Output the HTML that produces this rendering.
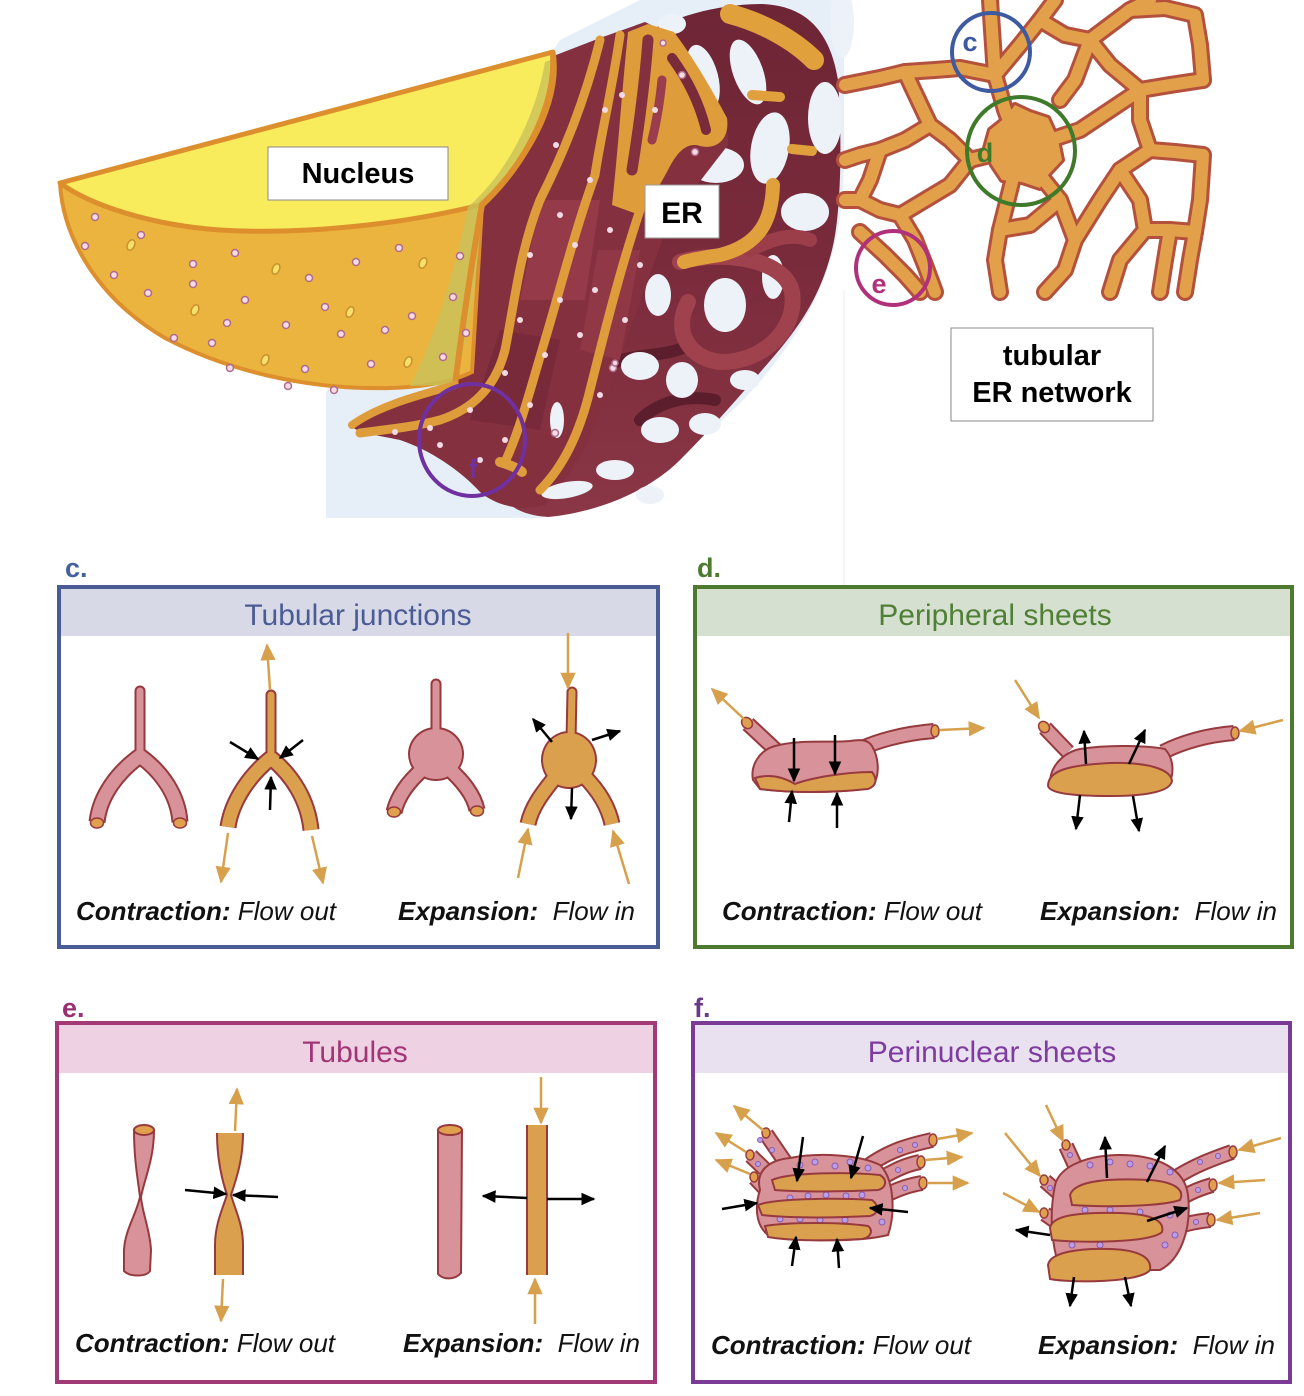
<!DOCTYPE html>
<html><head><meta charset="utf-8"><title>ER flow diagram</title>
<style>html,body{margin:0;padding:0;background:#fff}svg{display:block}</style></head>
<body>
<svg width="1304" height="1396" viewBox="0 0 1304 1396" xmlns="http://www.w3.org/2000/svg" font-family="'Liberation Sans', Arial, sans-serif">
<defs>
<marker id="bk" viewBox="0 0 10 10" refX="9" refY="5" markerWidth="14" markerHeight="14" markerUnits="userSpaceOnUse" orient="auto"><path d="M0,0.5 L10,5 L0,9.5 Z" fill="#000"/></marker>
<marker id="gd" viewBox="0 0 10 10" refX="9" refY="5" markerWidth="17" markerHeight="17" markerUnits="userSpaceOnUse" orient="auto"><path d="M0,0.5 L10,5 L0,9.5 Z" fill="#d6a04c"/></marker>
<linearGradient id="mz" x1="0" y1="0" x2="0" y2="1">
<stop offset="0" stop-color="#6e2535"/><stop offset="0.5" stop-color="#7a2b3b"/><stop offset="1" stop-color="#8a3646"/>
</linearGradient>
</defs>
<rect width="1304" height="1396" fill="#fff"/>

<!-- ===== TOP ILLUSTRATION ===== -->
<path d="M326,392 L326,518 L540,518 C590,510 630,485 660,465 C720,430 770,380 810,310 C835,260 844,220 844,150 L844,0 L640,0 L560,40 Z" fill="#e6eef8"/>
<path d="M844,290 L844,598 M713,598 L844,598" stroke="#ececec" stroke-width="1" fill="none"/>

<!-- ER maze base -->
<path d="M600,60 C650,25 700,5 760,4 C805,5 830,30 838,80 C843,150 840,220 832,250 C822,290 805,320 775,355 C745,390 715,425 680,460 C650,490 600,512 548,517 C520,515 505,505 500,490 L560,420 L610,300 L650,200 Z" fill="url(#mz)"/>
<g fill="none" stroke-linecap="round" stroke-linejoin="round">
<path d="M600,370 C630,350 660,360 690,345" stroke="#5c1e2c" stroke-width="12"/>
<path d="M640,420 C660,400 690,395 715,400" stroke="#5c1e2c" stroke-width="12"/>
</g>
<!-- maze holes -->
<g fill="#edf2f9">
<ellipse cx="703" cy="77" rx="15" ry="33" transform="rotate(-15 703 77)"/>
<ellipse cx="748" cy="72" rx="15" ry="34" transform="rotate(-20 748 72)"/>
<ellipse cx="770" cy="148" rx="19" ry="36" transform="rotate(10 770 148)"/>
<ellipse cx="825" cy="118" rx="17" ry="36"/>
<ellipse cx="716" cy="165" rx="28" ry="18"/>
<ellipse cx="805" cy="212" rx="24" ry="19"/>
<ellipse cx="842" cy="22" rx="12" ry="36"/>
<ellipse cx="672" cy="24" rx="14" ry="10"/>
<ellipse cx="725" cy="305" rx="21" ry="27"/>
<ellipse cx="773" cy="277" rx="11" ry="22"/>
<ellipse cx="658" cy="295" rx="13" ry="21"/>
<ellipse cx="640" cy="366" rx="19" ry="14"/>
<ellipse cx="682" cy="380" rx="16" ry="18"/>
<ellipse cx="660" cy="430" rx="19" ry="13"/>
<ellipse cx="705" cy="424" rx="16" ry="11"/>
<ellipse cx="615" cy="470" rx="19" ry="10"/>
<ellipse cx="745" cy="380" rx="15" ry="10"/>
<ellipse cx="650" cy="495" rx="14" ry="9"/>
</g>
<path d="M680,262 C720,250 785,258 792,292 C798,330 762,362 722,362 C690,360 672,332 688,302" fill="none" stroke="#a0424e" stroke-width="16" stroke-linecap="round"/>
<path d="M750,250 C770,240 790,232 810,240" fill="none" stroke="#9b3e4a" stroke-width="14" stroke-linecap="round"/>

<!-- ER sheets region -->
<path d="M478,200 C520,160 548,110 556,55 L600,38 L645,22 L672,35 C700,75 730,110 728,145 C705,175 680,205 662,240 C645,290 628,335 612,380 C598,430 575,470 545,505 C520,512 495,505 480,492 C460,470 430,450 400,440 C375,435 355,432 350,425 C370,405 420,390 455,385 C470,330 476,270 478,200 Z" fill="#84303f"/>
<path d="M540,200 L600,200 L585,300 L520,300 Z" fill="#9a3d4c" opacity="0.8"/>
<path d="M500,330 L560,340 L540,430 L470,420 Z" fill="#75283a" opacity="0.8"/>
<path d="M598,250 L640,250 L620,360 L580,350 Z" fill="#9a3d4c" opacity="0.6"/>
<!-- orange lobe at top of sheets -->
<path d="M628,32 L648,24 L674,32 C695,60 712,90 727,118 C730,140 716,150 700,146 C688,142 678,150 668,170 C656,192 648,205 640,215 L612,205 C618,150 622,90 628,32 Z" fill="#de9c3a"/>
<g fill="none" stroke-linecap="round">
<path d="M648,40 C645,80 640,120 632,170" stroke="#84303f" stroke-width="11"/>
<path d="M672,58 C688,80 700,105 706,130" stroke="#7a2b3a" stroke-width="10"/>
<path d="M662,80 C660,100 657,120 652,140" stroke="#9a3d4c" stroke-width="9"/>
</g>
<g fill="#edf2f9">
<ellipse cx="557" cy="420" rx="7" ry="18"/>
<ellipse cx="567" cy="490" rx="26" ry="8" transform="rotate(-10 567 490)"/>
</g>
<g fill="none" stroke="#de9c3a" stroke-linecap="round" stroke-width="9">
<path d="M600,40 C585,100 565,150 540,200 C520,250 515,300 505,350 C495,390 470,410 440,420 C410,428 380,430 360,433"/>
<path d="M620,35 C612,90 600,140 595,175 C575,230 560,290 545,340 C530,390 520,430 505,462"/>
<path d="M640,210 C620,270 605,330 590,390 C578,440 560,470 540,490"/>
<path d="M500,462 C510,465 518,468 522,472" stroke-width="10"/>
</g>

<!-- maze orange highlights -->
<g fill="none" stroke="#e0a03c" stroke-linecap="round">
<path d="M730,14 C760,22 792,38 814,60" stroke-width="20"/>
<path d="M752,95 L780,97" stroke-width="10"/>
<path d="M792,149 L812,151" stroke-width="10"/>
<path d="M773,185 C772,220 760,245 720,255 C700,258 690,260 684,262" stroke-width="14"/>
</g>

<!-- Nucleus -->
<path d="M60,183 C63,240 100,300 165,338 C230,372 310,390 390,388 C425,387 452,382 472,372 L482,205 Z" fill="#ebb43e" stroke="#dc8f2c" stroke-width="4"/>
<path d="M60,183 L553,52 C560,90 540,150 480,205 C400,225 300,235 220,230 C150,225 90,205 60,183 Z" fill="#f8eb5c" stroke="#dc8f2c" stroke-width="5" stroke-linejoin="round"/>
<path d="M545,62 C535,120 505,175 468,207 C455,270 438,330 410,386 L455,385 C470,330 478,270 482,205 C520,170 548,120 556,58 Z" fill="#c9c25a" opacity="0.8"/>
<path d="M553,55 C556,100 530,160 482,205 C470,270 462,330 455,385" fill="none" stroke="#dc8f2c" stroke-width="6"/>
<path d="M455,385 C420,395 380,405 352,425" fill="none" stroke="#de9c3a" stroke-width="8" stroke-linecap="round"/>
<!-- nucleus dots -->
<g fill="#f4dce6" stroke="#b06a8a" stroke-width="1.5">
<circle cx="95" cy="217" r="3.5"/><circle cx="85" cy="246" r="3.5"/><circle cx="141" cy="235" r="3.5"/><circle cx="114" cy="275" r="3.5"/><circle cx="148" cy="293" r="3.5"/><circle cx="193" cy="264" r="3.5"/><circle cx="193" cy="284" r="3.5"/><circle cx="235" cy="253" r="3.5"/><circle cx="245" cy="300" r="3.5"/><circle cx="227" cy="323" r="3.5"/><circle cx="212" cy="343" r="3.5"/><circle cx="174" cy="338" r="3.5"/><circle cx="286" cy="325" r="3.5"/><circle cx="309" cy="278" r="3.5"/><circle cx="356" cy="262" r="3.5"/><circle cx="325" cy="307" r="3.5"/><circle cx="341" cy="334" r="3.5"/><circle cx="385" cy="330" r="3.5"/><circle cx="412" cy="316" r="3.5"/><circle cx="399" cy="248" r="3.5"/><circle cx="460" cy="256" r="3.5"/><circle cx="453" cy="297" r="3.5"/><circle cx="305" cy="369" r="3.5"/><circle cx="371" cy="364" r="3.5"/><circle cx="230" cy="368" r="3.5"/><circle cx="288" cy="386" r="3.5"/><circle cx="334" cy="390" r="3.5"/><circle cx="443" cy="357" r="3.5"/><circle cx="466" cy="333" r="3.5"/>
<circle cx="663" cy="43" r="3"/><circle cx="682" cy="75" r="3.5"/><circle cx="695" cy="152" r="3.5"/><circle cx="613" cy="368" r="3.5"/><circle cx="555" cy="433" r="3.5"/><circle cx="615" cy="363" r="3"/>
</g>
<g fill="#f6e068" stroke="#c9902e" stroke-width="1.5">
<ellipse cx="131" cy="245" rx="3.5" ry="5.5" transform="rotate(25 131 245)"/><ellipse cx="276" cy="269" rx="3.5" ry="5.5" transform="rotate(25 276 269)"/><ellipse cx="423" cy="263" rx="3.5" ry="5.5" transform="rotate(25 423 263)"/><ellipse cx="195" cy="310" rx="3.5" ry="5.5" transform="rotate(25 195 310)"/><ellipse cx="350" cy="312" rx="3.5" ry="5.5" transform="rotate(25 350 312)"/><ellipse cx="265" cy="360" rx="3.5" ry="5.5" transform="rotate(25 265 360)"/><ellipse cx="408" cy="362" rx="3.5" ry="5.5" transform="rotate(25 408 362)"/>
</g>
<!-- ER dots -->
<g fill="#f0dbe4">
<circle cx="556" cy="145" r="3"/><circle cx="560" cy="215" r="3"/><circle cx="530" cy="255" r="3"/><circle cx="520" cy="320" r="3"/><circle cx="505" cy="373" r="3"/><circle cx="470" cy="410" r="3"/><circle cx="430" cy="428" r="3"/><circle cx="395" cy="432" r="3"/><circle cx="605" cy="110" r="3"/><circle cx="590" cy="180" r="3"/><circle cx="575" cy="245" r="3"/><circle cx="560" cy="300" r="3"/><circle cx="545" cy="355" r="3"/><circle cx="530" cy="405" r="3"/><circle cx="622" cy="95" r="3"/><circle cx="610" cy="230" r="3"/><circle cx="595" cy="290" r="3"/><circle cx="580" cy="335" r="3"/><circle cx="600" cy="395" r="3"/><circle cx="625" cy="320" r="3"/><circle cx="505" cy="440" r="3"/><circle cx="440" cy="445" r="3"/><circle cx="480" cy="460" r="3"/><circle cx="640" cy="265" r="3"/><circle cx="655" cy="110" r="3"/>
</g>

<!-- Tubular network -->
<g fill="none" stroke-linecap="round" stroke-linejoin="round">
<g stroke="#b4513c" stroke-width="18">
<path d="M845,85 L880,78 L905,72 L935,70 L960,68 L995,75"/>
<path d="M990,0 L992,30 L995,75 L1005,110 L1020,150"/>
<path d="M995,75 L1020,45 L1040,20 L1055,0"/>
<path d="M1040,20 L1065,35 L1090,40 L1110,25 L1130,10 L1150,0"/>
<path d="M1130,10 L1165,8 L1195,15 L1200,45 L1203,80"/>
<path d="M1090,40 L1110,65 L1140,90 L1170,85 L1203,80"/>
<path d="M1140,90 L1110,110 L1080,130 L1050,140 L1020,150"/>
<path d="M1020,150 L990,155 L970,160 L950,140 L930,125 L905,72"/>
<path d="M930,125 L905,140 L880,150 L860,155 L845,160"/>
<path d="M880,150 L870,180 L860,200 L880,210 L900,215 L925,200 L950,185 L970,160"/>
<path d="M900,215 L915,240 L925,265 L935,292"/>
<path d="M860,232 L885,255 L905,275 L920,292"/>
<path d="M845,200 L860,200"/>
<path d="M1020,150 L1010,190 L1000,230 L995,260 L1000,292"/>
<path d="M1020,150 L1040,175 L1060,200 L1075,240 L1065,270 L1045,292"/>
<path d="M1075,240 L1100,200 L1120,170 L1150,150 L1140,120 L1140,90"/>
<path d="M1150,150 L1175,152 L1203,155 L1200,200 L1195,232"/>
<path d="M1120,170 L1140,200 L1145,230 L1120,260 L1110,292"/>
<path d="M1145,230 L1170,230 L1195,232 L1190,260 L1185,292"/>
<path d="M1000,230 L1030,225 L1060,200"/>
<path d="M1060,100 L1075,80 L1090,40"/>
<path d="M1160,292 L1165,260 L1170,230"/>
</g>
<path d="M990,130 L1005,118 L1015,105 L1030,112 L1048,118 L1058,140 L1062,160 L1048,175 L1040,188 L1022,182 L1002,180 L992,165 L985,148 Z" fill="#b4513c" stroke="#b4513c" stroke-width="6"/>
<g stroke="#e2a04a" stroke-width="12">
<path d="M845,85 L880,78 L905,72 L935,70 L960,68 L995,75"/>
<path d="M990,0 L992,30 L995,75 L1005,110 L1020,150"/>
<path d="M995,75 L1020,45 L1040,20 L1055,0"/>
<path d="M1040,20 L1065,35 L1090,40 L1110,25 L1130,10 L1150,0"/>
<path d="M1130,10 L1165,8 L1195,15 L1200,45 L1203,80"/>
<path d="M1090,40 L1110,65 L1140,90 L1170,85 L1203,80"/>
<path d="M1140,90 L1110,110 L1080,130 L1050,140 L1020,150"/>
<path d="M1020,150 L990,155 L970,160 L950,140 L930,125 L905,72"/>
<path d="M930,125 L905,140 L880,150 L860,155 L845,160"/>
<path d="M880,150 L870,180 L860,200 L880,210 L900,215 L925,200 L950,185 L970,160"/>
<path d="M900,215 L915,240 L925,265 L935,292"/>
<path d="M860,232 L885,255 L905,275 L920,292"/>
<path d="M845,200 L860,200"/>
<path d="M1020,150 L1010,190 L1000,230 L995,260 L1000,292"/>
<path d="M1020,150 L1040,175 L1060,200 L1075,240 L1065,270 L1045,292"/>
<path d="M1075,240 L1100,200 L1120,170 L1150,150 L1140,120 L1140,90"/>
<path d="M1150,150 L1175,152 L1203,155 L1200,200 L1195,232"/>
<path d="M1120,170 L1140,200 L1145,230 L1120,260 L1110,292"/>
<path d="M1145,230 L1170,230 L1195,232 L1190,260 L1185,292"/>
<path d="M1000,230 L1030,225 L1060,200"/>
<path d="M1060,100 L1075,80 L1090,40"/>
<path d="M1160,292 L1165,260 L1170,230"/>
</g>
<path d="M990,130 L1005,118 L1015,105 L1030,112 L1048,118 L1058,140 L1062,160 L1048,175 L1040,188 L1022,182 L1002,180 L992,165 L985,148 Z" fill="#e2a04a" stroke="none"/>
</g>

<!-- circles -->
<g fill="none" stroke-width="4">
<circle cx="991" cy="52" r="39" stroke="#3e5aa0"/>
<circle cx="1021" cy="151" r="54" stroke="#3f7a2a"/>
<circle cx="893" cy="268" r="37" stroke="#b0307a"/>
<ellipse cx="472" cy="440" rx="53" ry="56" stroke="#7030a0"/>
</g>
<g font-weight="bold" font-size="27" text-anchor="middle">
<text x="970" y="51" fill="#3e5aa0">c</text>
<text x="985" y="162" fill="#3f7a2a">d</text>
<text x="879" y="293" fill="#b0307a">e</text>
<text x="473" y="478" fill="#7030a0">f</text>
</g>

<!-- labels -->
<rect x="268" y="147" width="180" height="53" fill="#fff" stroke="#888" stroke-width="1"/>
<text x="358" y="183" font-size="29" font-weight="bold" text-anchor="middle" fill="#000">Nucleus</text>
<rect x="645" y="185" width="74" height="53" fill="#fff" stroke="#999" stroke-width="1"/>
<text x="682" y="223" font-size="30" font-weight="bold" text-anchor="middle" fill="#000">ER</text>
<rect x="951" y="328" width="202" height="93" fill="#fff" stroke="#888" stroke-width="1"/>
<text x="1052" y="365" font-size="29" font-weight="bold" text-anchor="middle" fill="#000">tubular</text>
<text x="1052" y="402" font-size="29" font-weight="bold" text-anchor="middle" fill="#000">ER network</text>

<!-- ===== PANEL LABELS ===== -->
<g font-weight="bold" font-size="27">
<text x="65" y="577" fill="#46609c">c.</text>
<text x="697" y="577" fill="#4e7a30">d.</text>
<text x="62" y="1017" fill="#9a3072">e.</text>
<text x="694" y="1017" fill="#6a3a8a">f.</text>
</g>

<!-- ===== BOX C ===== -->
<rect x="61" y="589" width="595" height="47" fill="#d7dae6"/>
<rect x="59" y="587" width="599" height="360" fill="none" stroke="#4a5c96" stroke-width="4"/>
<text x="358" y="625" font-size="30" text-anchor="middle" fill="#4b5b95">Tubular junctions</text>
<g fill="none">
<path d="M140,691 L140,758" stroke="#973a3e" stroke-width="11" stroke-linecap="round"/>
<path d="M140,756 C118,772 100,795 97,822 M140,756 C162,772 178,795 180,822" stroke="#973a3e" stroke-width="17"/>
<path d="M140,691 L140,758" stroke="#d8929a" stroke-width="7" stroke-linecap="round"/>
<path d="M140,756 C118,772 100,795 97,822 M140,756 C162,772 178,795 180,822" stroke="#d8929a" stroke-width="13"/>
<path d="M271,695 L271,760" stroke="#973a3e" stroke-width="11" stroke-linecap="round"/>
<path d="M271,758 C250,775 232,800 228,827 M271,758 C292,775 308,800 311,830" stroke="#973a3e" stroke-width="17"/>
<path d="M271,695 L271,760" stroke="#dba04e" stroke-width="7" stroke-linecap="round"/>
<path d="M271,758 C250,775 232,800 228,827 M271,758 C292,775 308,800 311,830" stroke="#dba04e" stroke-width="13"/>
<path d="M436,684 L436,740" stroke="#973a3e" stroke-width="11" stroke-linecap="round"/>
<path d="M424,768 C410,780 398,795 394,812 M448,768 C462,780 474,795 477,810" stroke="#973a3e" stroke-width="17"/>
<ellipse cx="436" cy="754" rx="28" ry="27" fill="#973a3e"/>
<path d="M436,684 L436,740" stroke="#d8929a" stroke-width="7" stroke-linecap="round"/>
<path d="M424,768 C410,780 398,795 394,812 M448,768 C462,780 474,795 477,810" stroke="#d8929a" stroke-width="13"/>
<ellipse cx="436" cy="754" rx="26" ry="25" fill="#d8929a"/>
<path d="M572,692 L571,740" stroke="#973a3e" stroke-width="11" stroke-linecap="round"/>
<path d="M556,776 C545,790 532,805 528,824 M584,776 C598,790 608,805 612,824" stroke="#973a3e" stroke-width="17"/>
<ellipse cx="569" cy="760" rx="28" ry="29" fill="#973a3e"/>
<path d="M572,692 L571,740" stroke="#dba04e" stroke-width="7" stroke-linecap="round"/>
<path d="M556,776 C545,790 532,805 528,824 M584,776 C598,790 608,805 612,824" stroke="#dba04e" stroke-width="13"/>
<ellipse cx="569" cy="760" rx="26" ry="27" fill="#dba04e"/>
</g>
<g fill="#e0a04e" stroke="#973a3e" stroke-width="1.5">
<ellipse cx="97" cy="823" rx="6.5" ry="5"/><ellipse cx="180" cy="823" rx="6.5" ry="5"/>
<ellipse cx="394" cy="812" rx="6.5" ry="5"/><ellipse cx="477" cy="811" rx="6.5" ry="5"/>
</g>
<g stroke="#d6a04c" stroke-width="2.5" marker-end="url(#gd)">
<line x1="270" y1="690" x2="267" y2="645"/>
<line x1="228" y1="833" x2="221" y2="882"/>
<line x1="312" y1="836" x2="323" y2="883"/>
<line x1="568" y1="633" x2="568" y2="688"/>
<line x1="518" y1="878" x2="528" y2="829"/>
<line x1="629" y1="884" x2="613" y2="831"/>
</g>
<g stroke="#000" stroke-width="2.5" marker-end="url(#bk)">
<line x1="230" y1="742" x2="258" y2="759"/>
<line x1="303" y1="740" x2="280" y2="758"/>
<line x1="270" y1="810" x2="271" y2="777"/>
<line x1="552" y1="742" x2="533" y2="719"/>
<line x1="592" y1="740" x2="620" y2="731"/>
<line x1="572" y1="788" x2="571" y2="819"/>
</g>
<text x="76" y="920" font-size="26" fill="#111"><tspan font-weight="bold" font-style="italic">Contraction:</tspan><tspan font-style="italic"> Flow out</tspan></text>
<text x="398" y="920" font-size="26" fill="#111"><tspan font-weight="bold" font-style="italic">Expansion:</tspan><tspan font-style="italic" xml:space="preserve">  Flow in</tspan></text>

<!-- ===== BOX D ===== -->
<rect x="697" y="589" width="594" height="47" fill="#d5e0d1"/>
<rect x="695" y="587" width="597" height="360" fill="none" stroke="#4e7a30" stroke-width="4"/>
<text x="995" y="625" font-size="30" text-anchor="middle" fill="#4f8036">Peripheral sheets</text>
<g fill="none">
<path d="M778,752 L748,724 M862,748 C885,738 910,733 934,731" stroke="#973a3e" stroke-width="16"/>
<path d="M778,752 L748,724 M862,748 C885,738 910,733 934,731" stroke="#d8929a" stroke-width="12"/>
<path d="M1068,752 L1045,728 M1163,752 C1185,741 1210,735 1234,733" stroke="#973a3e" stroke-width="16"/>
<path d="M1068,752 L1045,728 M1163,752 C1185,741 1210,735 1234,733" stroke="#d8929a" stroke-width="12"/>
</g>
<path d="M753,780 C750,765 760,750 775,746 C800,739 830,743 850,741 C862,739 868,740 872,746 C880,760 880,780 870,788 C840,793 790,793 760,789 Z" fill="#d8929a" stroke="#973a3e" stroke-width="2"/>
<path d="M755,778 C775,772 790,781 795,784 C810,778 845,772 872,772 C878,780 876,786 868,789 C830,793 790,793 760,789 Z" fill="#dba04e" stroke="#973a3e" stroke-width="2"/>
<path d="M1050,783 C1050,765 1065,752 1080,749 C1110,744 1150,746 1165,749 C1175,760 1173,775 1170,781 C1150,797 1070,797 1050,783 Z" fill="#d8929a" stroke="#973a3e" stroke-width="2"/>
<path d="M1048,786 C1048,770 1070,765 1110,763 C1150,762 1171,770 1172,781 C1170,793 1140,796 1110,796 C1070,796 1050,793 1048,786 Z" fill="#dba04e" stroke="#973a3e" stroke-width="2"/>
<g fill="#e0a04e" stroke="#973a3e" stroke-width="1.5">
<ellipse cx="747" cy="723" rx="5" ry="6" transform="rotate(-40 747 723)"/><ellipse cx="935" cy="731" rx="4" ry="6"/>
<ellipse cx="1044" cy="727" rx="5" ry="6" transform="rotate(-40 1044 727)"/><ellipse cx="1235" cy="733" rx="4" ry="6"/>
</g>
<g stroke="#d6a04c" stroke-width="2.5" marker-end="url(#gd)">
<line x1="744" y1="719" x2="712" y2="689"/>
<line x1="940" y1="730" x2="984" y2="728"/>
<line x1="1015" y1="680" x2="1039" y2="718"/>
<line x1="1283" y1="720" x2="1240" y2="731"/>
</g>
<g stroke="#000" stroke-width="2.5" marker-end="url(#bk)">
<line x1="794" y1="738" x2="794" y2="781"/>
<line x1="835" y1="735" x2="835" y2="774"/>
<line x1="789" y1="822" x2="792" y2="791"/>
<line x1="837" y1="828" x2="837" y2="793"/>
<line x1="1086" y1="764" x2="1084" y2="731"/>
<line x1="1129" y1="764" x2="1145" y2="730"/>
<line x1="1080" y1="795" x2="1076" y2="829"/>
<line x1="1133" y1="796" x2="1139" y2="831"/>
</g>
<text x="722" y="920" font-size="26" fill="#111"><tspan font-weight="bold" font-style="italic">Contraction:</tspan><tspan font-style="italic"> Flow out</tspan></text>
<text x="1040" y="920" font-size="26" fill="#111"><tspan font-weight="bold" font-style="italic">Expansion:</tspan><tspan font-style="italic" xml:space="preserve">  Flow in</tspan></text>

<!-- ===== BOX E ===== -->
<rect x="59" y="1025" width="594" height="48" fill="#eed2e3"/>
<rect x="57" y="1023" width="598" height="359" fill="none" stroke="#a33a78" stroke-width="4"/>
<text x="355" y="1062" font-size="30" text-anchor="middle" fill="#a23576">Tubules</text>
<path d="M134,1130 C134,1160 138,1180 140,1197 C136,1215 125,1230 124,1250 L124,1271 C130,1277 146,1277 150,1271 L151,1250 C150,1230 142,1212 141,1197 C144,1180 154,1160 154,1130 Z" fill="#d8929a" stroke="#973a3e" stroke-width="2"/>
<ellipse cx="144" cy="1130" rx="10" ry="5" fill="#e0a04e" stroke="#973a3e" stroke-width="2"/>
<path d="M217,1133 L243,1133 C243,1160 236,1180 231,1195 C236,1212 243,1225 243,1245 L243,1275 L215,1275 L215,1245 C215,1225 222,1210 227,1195 C222,1180 217,1160 217,1133 Z" fill="#dba04e"/>
<path d="M217,1133 C217,1160 222,1180 227,1195 C222,1210 215,1225 215,1245 L215,1275 M243,1133 C243,1160 236,1180 231,1195 C236,1212 243,1225 243,1245 L243,1275" fill="none" stroke="#973a3e" stroke-width="2"/>
<path d="M438,1130 L462,1130 L461,1273 C455,1280 443,1280 438,1274 Z" fill="#d8929a" stroke="#973a3e" stroke-width="2"/>
<ellipse cx="450" cy="1130" rx="12" ry="5" fill="#e0a04e" stroke="#973a3e" stroke-width="2"/>
<rect x="527" y="1125" width="20" height="150" fill="#dba04e"/>
<path d="M527,1125 L527,1275 M547,1125 L547,1275" stroke="#973a3e" stroke-width="2"/>
<g stroke="#d6a04c" stroke-width="2.5" marker-end="url(#gd)">
<line x1="235" y1="1131" x2="237" y2="1089"/>
<line x1="223" y1="1279" x2="221" y2="1321"/>
<line x1="541" y1="1077" x2="541" y2="1123"/>
<line x1="535" y1="1324" x2="535" y2="1279"/>
</g>
<g stroke="#000" stroke-width="2.5" marker-end="url(#bk)">
<line x1="185" y1="1190" x2="226" y2="1194"/>
<line x1="278" y1="1197" x2="233" y2="1195"/>
<line x1="527" y1="1198" x2="483" y2="1196"/>
<line x1="547" y1="1199" x2="594" y2="1199"/>
</g>
<text x="75" y="1352" font-size="26" fill="#111"><tspan font-weight="bold" font-style="italic">Contraction:</tspan><tspan font-style="italic"> Flow out</tspan></text>
<text x="403" y="1352" font-size="26" fill="#111"><tspan font-weight="bold" font-style="italic">Expansion:</tspan><tspan font-style="italic" xml:space="preserve">  Flow in</tspan></text>

<!-- ===== BOX F ===== -->
<rect x="695" y="1025" width="593" height="48" fill="#e9e1f0"/>
<rect x="693" y="1023" width="597" height="359" fill="none" stroke="#7a3b96" stroke-width="4"/>
<text x="992" y="1062" font-size="30" text-anchor="middle" fill="#7e3ba0">Perinuclear sheets</text>
<g fill="none">
<path d="M792,1172 L766,1134 M778,1182 L751,1156 M772,1196 L755,1178 M868,1166 C890,1150 910,1145 932,1140 M878,1180 C895,1170 905,1165 920,1162 M884,1196 C900,1188 910,1185 922,1183" stroke="#973a3e" stroke-width="16"/>
<path d="M792,1172 L766,1134 M778,1182 L751,1156 M772,1196 L755,1178 M868,1166 C890,1150 910,1145 932,1140 M878,1180 C895,1170 905,1165 920,1162 M884,1196 C900,1188 910,1185 922,1183" stroke="#d8929a" stroke-width="12"/>
<path d="M1078,1172 L1066,1146 M1062,1196 L1045,1181 M1062,1226 L1045,1214 M1175,1178 C1195,1165 1215,1158 1232,1152 M1183,1197 C1195,1190 1205,1187 1212,1185 M1180,1226 C1192,1222 1202,1221 1210,1220" stroke="#973a3e" stroke-width="16"/>
<path d="M1078,1172 L1066,1146 M1062,1196 L1045,1181 M1062,1226 L1045,1214 M1175,1178 C1195,1165 1215,1158 1232,1152 M1183,1197 C1195,1190 1205,1187 1212,1185 M1180,1226 C1192,1222 1202,1221 1210,1220" stroke="#d8929a" stroke-width="12"/>
</g>
<path d="M760,1190 C755,1170 770,1160 790,1158 C820,1152 860,1155 880,1165 C895,1180 895,1215 888,1235 C860,1242 800,1242 768,1235 C755,1225 755,1205 760,1190 Z" fill="#d8929a" stroke="#973a3e" stroke-width="2"/>
<path d="M1055,1185 C1060,1165 1090,1155 1120,1155 C1160,1155 1185,1170 1188,1195 C1192,1230 1180,1260 1160,1270 L1060,1270 C1050,1240 1050,1210 1055,1185 Z" fill="#d8929a" stroke="#973a3e" stroke-width="2"/>
<g fill="#b9a0e6" stroke="#8a5ab0" stroke-width="1">
<circle cx="800" cy="1165" r="3"/><circle cx="815" cy="1162" r="3"/><circle cx="835" cy="1166" r="3"/><circle cx="850" cy="1162" r="3"/><circle cx="868" cy="1168" r="3"/><circle cx="790" cy="1198" r="3"/><circle cx="808" cy="1196" r="3"/><circle cx="826" cy="1195" r="3"/><circle cx="846" cy="1196" r="3"/><circle cx="862" cy="1195" r="3"/><circle cx="780" cy="1219" r="3"/><circle cx="800" cy="1219" r="3"/><circle cx="820" cy="1220" r="3"/><circle cx="845" cy="1220" r="3"/><circle cx="882" cy="1222" r="3"/>
<circle cx="760" cy="1140" r="2.5"/><circle cx="772" cy="1150" r="2.5"/><circle cx="758" cy="1164" r="2.5"/><circle cx="900" cy="1150" r="2.5"/><circle cx="915" cy="1145" r="2.5"/><circle cx="898" cy="1170" r="2.5"/><circle cx="905" cy="1188" r="2.5"/>
<circle cx="1090" cy="1165" r="3"/><circle cx="1110" cy="1162" r="3"/><circle cx="1130" cy="1164" r="3"/><circle cx="1150" cy="1166" r="3"/><circle cx="1170" cy="1172" r="3"/><circle cx="1085" cy="1210" r="3"/><circle cx="1110" cy="1210" r="3"/><circle cx="1140" cy="1212" r="3"/><circle cx="1170" cy="1215" r="3"/><circle cx="1072" cy="1245" r="3"/><circle cx="1100" cy="1245" r="3"/><circle cx="1165" cy="1245" r="3"/><circle cx="1175" cy="1235" r="3"/>
<circle cx="1070" cy="1155" r="2.5"/><circle cx="1050" cy="1188" r="2.5"/><circle cx="1200" cy="1162" r="2.5"/><circle cx="1218" cy="1156" r="2.5"/><circle cx="1198" cy="1190" r="2.5"/><circle cx="1196" cy="1222" r="2.5"/>
</g>
<g fill="#dba04e" stroke="#973a3e" stroke-width="2">
<path d="M772,1180 C790,1172 850,1172 880,1175 C888,1180 886,1188 878,1190 C840,1192 800,1192 775,1190 Z"/>
<path d="M758,1205 C775,1198 840,1198 872,1200 C880,1206 878,1214 870,1216 C830,1218 790,1218 762,1215 Z"/>
<path d="M765,1226 C790,1222 840,1222 868,1226 C874,1231 870,1238 862,1239 C830,1241 790,1241 768,1237 Z"/>
<path d="M1070,1195 C1075,1180 1110,1178 1150,1180 C1175,1182 1185,1190 1180,1200 C1160,1207 1100,1207 1072,1205 Z"/>
<path d="M1050,1228 C1052,1215 1080,1212 1120,1213 C1150,1214 1165,1220 1162,1232 C1150,1243 1080,1243 1052,1240 Z"/>
<path d="M1048,1265 C1050,1252 1080,1248 1110,1249 C1140,1250 1152,1258 1150,1270 C1140,1283 1070,1283 1050,1279 Z"/>
</g>
<g fill="#e0a04e" stroke="#973a3e" stroke-width="1.5">
<ellipse cx="766" cy="1133" rx="4" ry="5"/><ellipse cx="750" cy="1155" rx="4" ry="5"/><ellipse cx="754" cy="1177" rx="4" ry="5"/><ellipse cx="933" cy="1140" rx="4" ry="6"/><ellipse cx="921" cy="1162" rx="4" ry="6"/><ellipse cx="923" cy="1183" rx="4" ry="6"/>
<ellipse cx="1066" cy="1145" rx="4" ry="5"/><ellipse cx="1044" cy="1180" rx="4" ry="5"/><ellipse cx="1044" cy="1213" rx="4" ry="5"/><ellipse cx="1233" cy="1152" rx="4" ry="6"/><ellipse cx="1213" cy="1185" rx="4" ry="6"/><ellipse cx="1211" cy="1220" rx="4" ry="6"/>
</g>
<g stroke="#d6a04c" stroke-width="2.5" marker-end="url(#gd)">
<line x1="764" y1="1131" x2="734" y2="1106"/>
<line x1="746" y1="1152" x2="716" y2="1133"/>
<line x1="750" y1="1174" x2="716" y2="1160"/>
<line x1="937" y1="1139" x2="972" y2="1133"/>
<line x1="925" y1="1160" x2="962" y2="1157"/>
<line x1="927" y1="1183" x2="968" y2="1183"/>
<line x1="1046" y1="1105" x2="1063" y2="1141"/>
<line x1="1005" y1="1133" x2="1040" y2="1176"/>
<line x1="1003" y1="1193" x2="1039" y2="1212"/>
<line x1="1281" y1="1138" x2="1239" y2="1150"/>
<line x1="1265" y1="1180" x2="1219" y2="1183"/>
<line x1="1260" y1="1213" x2="1217" y2="1220"/>
</g>
<g stroke="#000" stroke-width="2.5" marker-end="url(#bk)">
<line x1="803" y1="1137" x2="797" y2="1181"/>
<line x1="863" y1="1136" x2="851" y2="1178"/>
<line x1="722" y1="1209" x2="757" y2="1203"/>
<line x1="908" y1="1212" x2="870" y2="1208"/>
<line x1="792" y1="1266" x2="796" y2="1237"/>
<line x1="839" y1="1268" x2="837" y2="1239"/>
<line x1="1107" y1="1178" x2="1105" y2="1137"/>
<line x1="1147" y1="1182" x2="1165" y2="1146"/>
<line x1="1147" y1="1221" x2="1187" y2="1208"/>
<line x1="1050" y1="1235" x2="1016" y2="1230"/>
<line x1="1074" y1="1277" x2="1070" y2="1306"/>
<line x1="1125" y1="1277" x2="1131" y2="1306"/>
</g>
<text x="711" y="1354" font-size="26" fill="#111"><tspan font-weight="bold" font-style="italic">Contraction:</tspan><tspan font-style="italic"> Flow out</tspan></text>
<text x="1038" y="1354" font-size="26" fill="#111"><tspan font-weight="bold" font-style="italic">Expansion:</tspan><tspan font-style="italic" xml:space="preserve">  Flow in</tspan></text>
</svg>
</body></html>
